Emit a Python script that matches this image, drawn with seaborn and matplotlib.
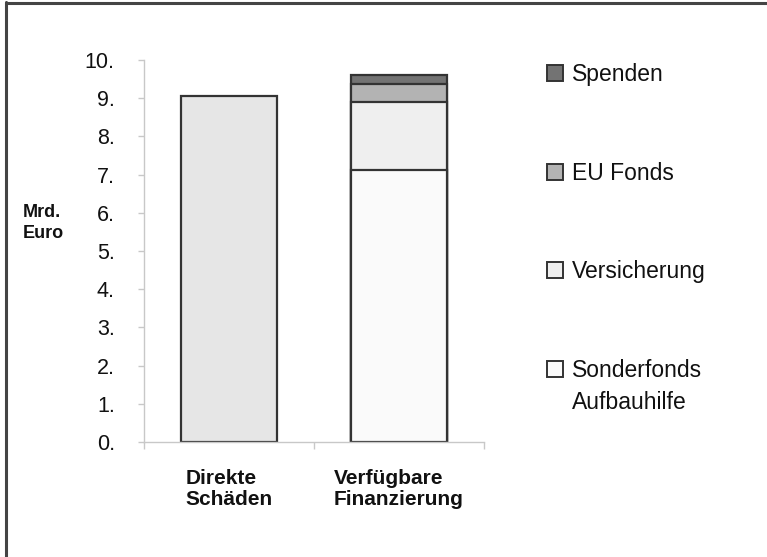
import pandas as pd
import matplotlib
matplotlib.use("Agg")
import matplotlib.pyplot as plt
from matplotlib.patches import Patch
from matplotlib.lines import Line2D
from matplotlib.ticker import FuncFormatter
import seaborn as sns

# data (Mrd. Euro)
categories = ["Direkte\nSchäden", "Verfügbare\nFinanzierung"]
schaeden = 9.05
parts = ["Sonderfonds\nAufbauhilfe", "Versicherung", "EU Fonds", "Spenden"]
part_values = [7.12, 1.78, 0.47, 0.24]
part_colors = ["#fafafa", "#efefef", "#b3b3b3", "#737373"]

sns.set_style("white")
plt.rcParams['font.family'] = ['Liberation Sans', 'DejaVu Sans']

fig = plt.figure(figsize=(7.67, 5.57), dpi=100)
ax = fig.add_axes([144 / 767, 115 / 557, 340 / 767, 382 / 557])

edge = "#333333"
# first bar
df1 = pd.DataFrame({"cat": [categories[0]], "val": [schaeden]})
sns.barplot(data=df1, x="cat", y="val", order=categories, color="#e6e6e6",
            edgecolor=edge, linewidth=1.6, width=0.56, saturation=1, ax=ax)

# stacked bar: draw cumulative totals from the top down
cum = pd.Series(part_values).cumsum().tolist()
for i in range(len(parts) - 1, -1, -1):
    d = pd.DataFrame({"cat": [categories[1]], "val": [cum[i]]})
    sns.barplot(data=d, x="cat", y="val", order=categories, color=part_colors[i],
                edgecolor=edge, linewidth=1.6, width=0.56, saturation=1, ax=ax)

ax.set_xlim(-0.5, 1.5)
ax.set_ylim(0, 10)
ax.set_yticks(range(0, 11))
ax.yaxis.set_major_formatter(FuncFormatter(lambda v, p: f"{int(v)}."))
ax.set_xlabel("")
ax.set_ylabel("")

for s in ["top", "right"]:
    ax.spines[s].set_visible(False)
for s in ["left", "bottom"]:
    ax.spines[s].set_color("#c8c8c8")
    ax.spines[s].set_linewidth(1.0)

ax.tick_params(axis="y", which="major", left=True, length=4, width=1.0,
               color="#c8c8c8", pad=17, labelsize=15.5, labelcolor="#111111")
ax.tick_params(axis="x", which="major", bottom=False, pad=16, labelsize=15)
ax.set_xticks([-0.5, 0.5, 1.5], minor=True)
ax.tick_params(axis="x", which="minor", bottom=True, length=5, width=1.0,
               color="#c8c8c8")
for t in ax.get_xticklabels():
    t.set_fontweight("bold")
    t.set_multialignment("left")
    t.set_color("#111111")
    t.set_va("top")
    t.set_linespacing(1.15)

fig.text(23 / 767, 1 - 223 / 557, "Mrd.\nEuro", fontsize=13, fontweight="bold",
         ha="left", va="center", color="#111111", linespacing=1.35)

# legend, top entry first (second line of the last label added below it)
order = list(range(len(parts) - 1, -1, -1))
handles = [Patch(facecolor=part_colors[i], edgecolor=edge, linewidth=1.4) for i in order]
labels = [parts[i].split("\n")[0] for i in order]
leg = fig.legend(handles, labels, loc="upper left", bbox_to_anchor=(547 / 767, 1 - 63 / 557),
                 frameon=False, fontsize=16.5, handlelength=0.7, handleheight=0.7,
                 handletextpad=0.4, labelspacing=3.3, borderaxespad=0, borderpad=0,
                 labelcolor="#111111")
fig.canvas.draw()
last = leg.get_texts()[-1]
bb = last.get_window_extent().transformed(fig.transFigure.inverted())
fig.text(bb.x0, bb.y0 - 0.016, parts[0].split("\n")[1], fontsize=16.5,
         ha="left", va="top", color="#111111")

# figure frame (left and top)
fig.add_artist(Line2D([6 / 767, 6 / 767], [0, 1 - 2 / 557], color="#444444", lw=2.2,
                      transform=fig.transFigure))
fig.add_artist(Line2D([6 / 767, 1], [1 - 3 / 557, 1 - 3 / 557], color="#444444", lw=2.2,
                      transform=fig.transFigure))

fig.savefig("out.png", dpi=100, facecolor="white")
